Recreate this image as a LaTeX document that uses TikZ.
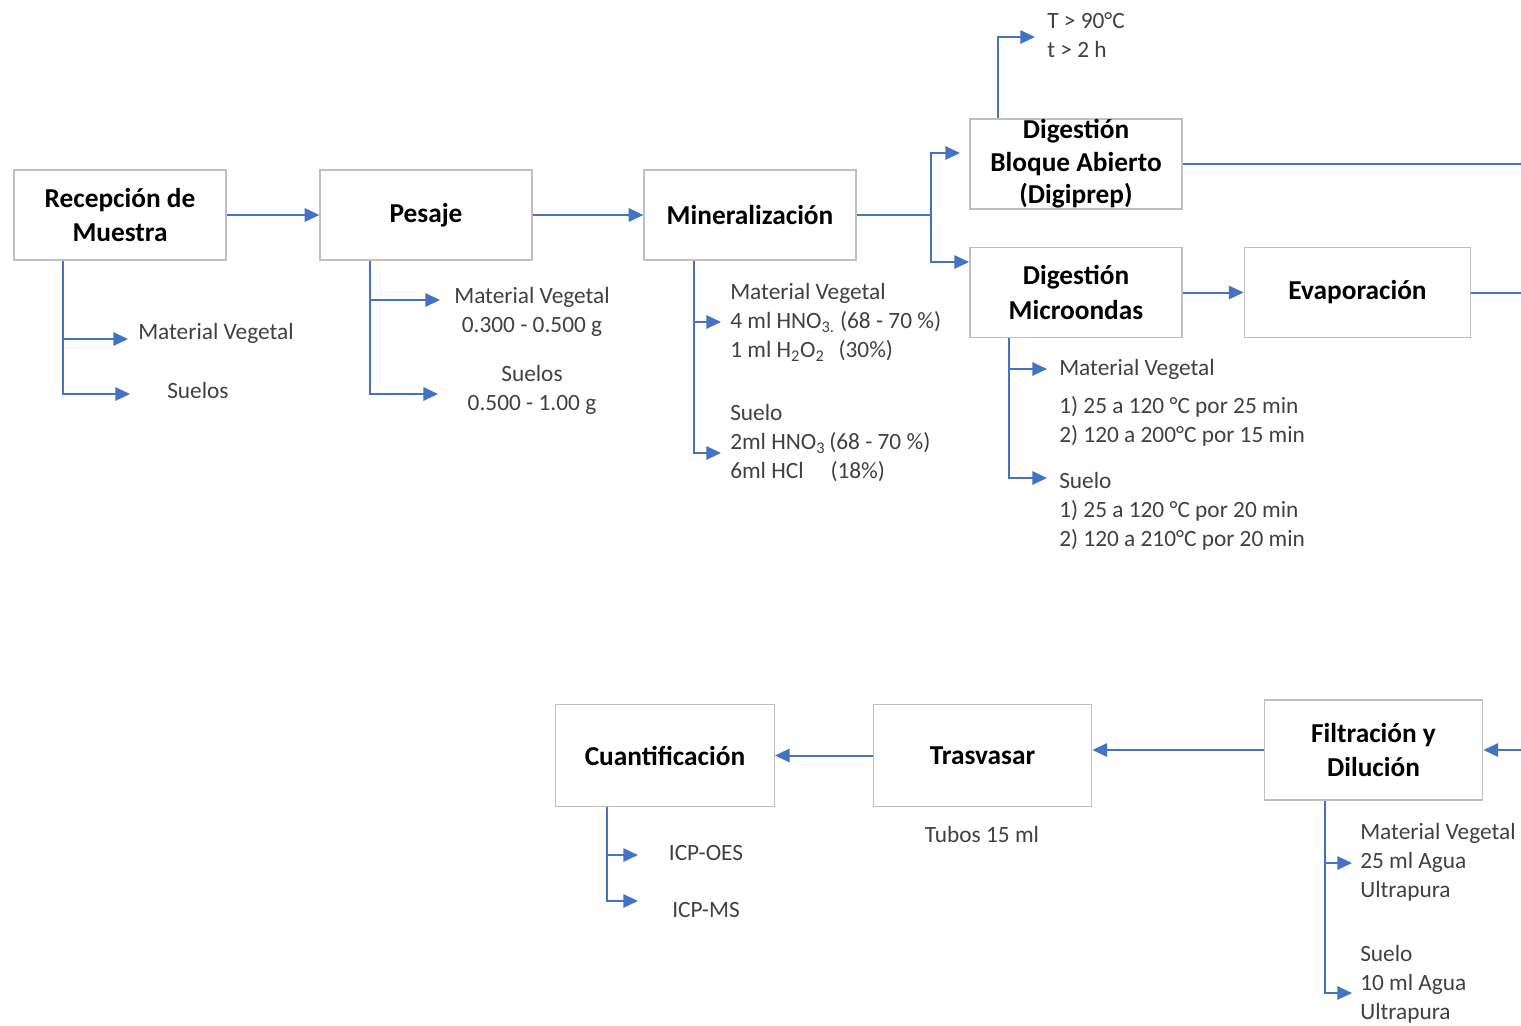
\documentclass[tikz,border=0pt]{standalone}
\usepackage{fontspec}
\setmainfont{Carlito}
\usetikzlibrary{arrows.meta,calc}
\definecolor{arr}{HTML}{4472C4}
\definecolor{txt}{HTML}{404040}
\definecolor{bord}{HTML}{C0C0C0}
\begin{document}
\begin{tikzpicture}[x=0.75pt,y=-0.75pt,
  box/.style={draw=bord, line width=0.9pt, fill=white, align=center, inner sep=0pt,
    font=\fontsize{20.5}{26}\selectfont\bfseries, text=black},
  wbox/.style={box, minimum width=159pt, minimum height=67.5pt},
  conn/.style={draw=arr, line width=1.5pt},
  arw/.style={conn, -{Triangle[length=11pt,width=10pt]}},
  lbl/.style={text=txt, font=\fontsize{17.5}{21.75}\selectfont, inner sep=0pt, align=left},
  clbl/.style={lbl, align=center}]
\useasboundingbox (0,0) rectangle (1521,1025);

% main boxes
\node[wbox] (rec) at (120,215) {Recepción de\\Muestra};
\node[wbox] (pes) at (426,215) {Pesaje};
\node[wbox] (min) at (750,215) {Mineralización};
\node[wbox, font=\fontsize{20.5}{24.5}\selectfont\bfseries] (blo) at (1076,164) {Digestión\\Bloque Abierto\\(Digiprep)};
\node[wbox] (mic) at (1076,292.5) {Digestión\\Microondas};
\node[box, minimum width=170pt, minimum height=67pt] (eva) at (1357.5,292.5) {Evaporación};
\node[box, minimum width=164pt, minimum height=75pt] (fil) at (1373.5,750) {Filtración y\\Dilución};
\node[box, minimum width=164pt, minimum height=76pt] (tra) at (982.5,755.5) {Trasvasar};
\node[box, minimum width=164pt, minimum height=76pt] (cua) at (665,755.5) {Cuantificación};

% labels
\node[lbl, anchor=west] (rMV) at (138,333) {Material Vegetal};
\node[lbl, anchor=west] (rS) at (167,390) {Suelos};
\node[clbl] (pMV) at (532,311.5) {Material Vegetal\\0.300 - 0.500 g};
\node[clbl] (pS) at (532,389.5) {Suelos\\0.500 - 1.00 g};
\node[lbl, anchor=west] (mMV) at (730,322.5) {Material Vegetal\\4 ml HNO\textsubscript{3.} (68 - 70 \%)\\1 ml H\textsubscript{2}O\textsubscript{2}\hspace{0.6em}(30\%)};
\node[lbl, anchor=west] (mS) at (730,443.5) {Suelo\\2ml HNO\textsubscript{3}\,(68 - 70 \%)\\6ml HCl\hspace{1.15em}(18\%)};
\node[lbl, anchor=west] (tT) at (1047,35) {T > 90°C\\t > 2 h};
\node[lbl, anchor=west] (cMV) at (1059,369) {Material Vegetal};
\node[lbl, anchor=west] (cMVt) at (1059,421) {1) 25 a 120 °C por 25 min\\2) 120 a 200°C por 15 min};
\node[lbl, anchor=west] (cS) at (1059,511) {Suelo\\1) 25 a 120 °C por 20 min\\2) 120 a 210°C por 20 min};
\node[lbl, anchor=west] (fMV) at (1360,862.5) {Material Vegetal\\25 ml Agua\\Ultrapura};
\node[lbl, anchor=west] (fS) at (1360,984.5) {Suelo\\10 ml Agua\\Ultrapura};
\node[clbl] (tTub) at (982,834) {Tubos 15 ml};
\node[clbl] (qOES) at (706,853) {ICP-OES};
\node[clbl] (qMS) at (706,910) {ICP-MS};

% main flow
\draw[arw] (rec.east) -- (pes.west);
\draw[arw] (pes.east) -- (min.west);
\coordinate (mj) at (931,215);
\draw[conn] (min.east) -- (mj);
\coordinate (bloIn) at (960,153);
\coordinate (micIn) at (969,262);
\draw[arw] (mj) |- (bloIn);
\draw[arw] (mj) |- (micIn);
\coordinate (bt) at ($(blo.north west)+(29,0)$);
\coordinate (tIn) at (1035,37);
\draw[arw] (bt) |- (tIn);
\coordinate (eR1) at (1521,164);
\draw[conn] (blo.east) -- (eR1);
\draw[arw] (mic.east) -- (eva.west);
\coordinate (eR2) at (1521,292.5);
\draw[conn] (eva.east) -- (eR2);
\coordinate (eR3) at (1521,750);
\draw[arw] (eR3) -- (fil.east);
\draw[arw] (fil.west) -- (tra.east |- fil.west);
\draw[arw] (tra.west) -- (cua.east);

% branches
\coordinate (r0) at ($(rec.south west)+(50,0)$);
\coordinate (r1) at (128,339);
\coordinate (r2) at (130,394);
\draw[arw] (r0) |- (r1);
\draw[arw] (r0) |- (r2);

\coordinate (p0) at ($(pes.south west)+(51,0)$);
\coordinate (p1) at (440,300);
\coordinate (p2) at (438,394);
\draw[arw] (p0) |- (p1);
\draw[arw] (p0) |- (p2);

\coordinate (m0) at ($(min.south west)+(51,0)$);
\coordinate (m1) at (721,322);
\coordinate (m2) at (721,453);
\draw[arw] (m0) |- (m1);
\draw[arw] (m0) |- (m2);

\coordinate (c0) at ($(mic.south west)+(40,0)$);
\coordinate (c1) at (1047,369);
\coordinate (c2) at (1047,478);
\draw[arw] (c0) |- (c1);
\draw[arw] (c0) |- (c2);

\coordinate (f0) at ($(fil.south west)+(61,0)$);
\coordinate (f1) at (1352,863);
\coordinate (f2) at (1352,993);
\draw[arw] (f0) |- (f1);
\draw[arw] (f0) |- (f2);

\coordinate (q0) at ($(cua.south west)+(52,0)$);
\coordinate (q1) at (638,855);
\coordinate (q2) at (638,901);
\draw[arw] (q0) |- (q1);
\draw[arw] (q0) |- (q2);
\end{tikzpicture}
\end{document}
